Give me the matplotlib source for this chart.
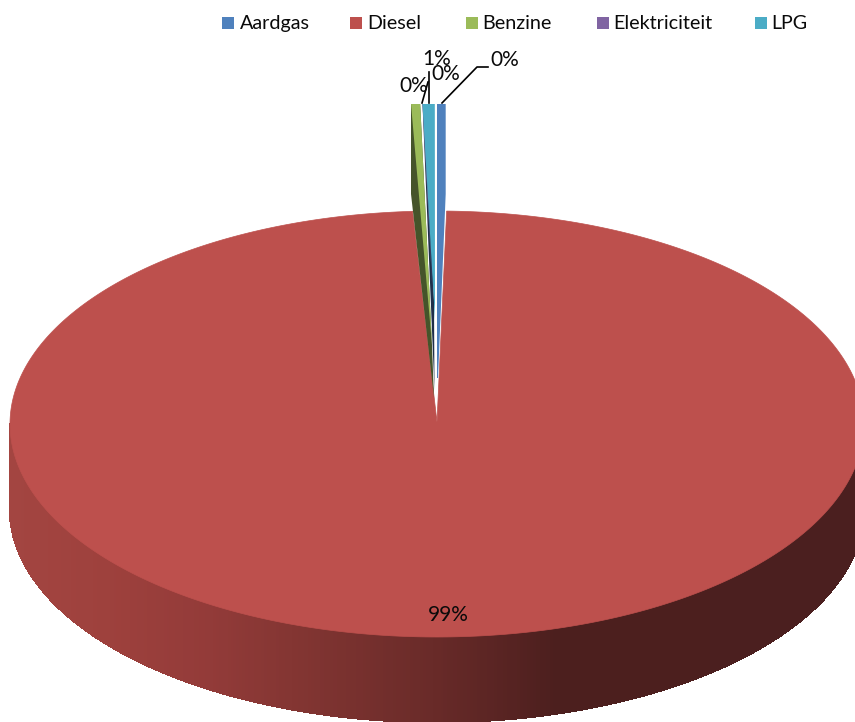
import numpy as np
from matplotlib import pyplot as plt
from matplotlib.collections import PolyCollection
from matplotlib.colors import LinearSegmentedColormap
from matplotlib.patches import Polygon, Rectangle

labels = ["Aardgas", "Diesel", "Benzine", "Elektriciteit", "LPG"]
shares = [0.36, 98.73, 0.38, 0.02, 0.51]
colors = ["#4F81BD", "#BD504D", "#9BBB59", "#8064A2", "#4BACC6"]

# geometry of the pie, in pixels of the 855x722 picture
cx, cy, rx, ry, depth = 437, 424, 427, 213, 85
top_y = 104
shrink = 0.9

plt.rcParams['font.family'] = ['Lato', 'DejaVu Sans']
fig = plt.figure(figsize=(8.55, 7.22), dpi=100)
ax = fig.add_axes([0, 0, 1, 1])
ax.set_xlim(0, 855)
ax.set_ylim(722, 0)
ax.axis('off')

fractions = np.array(shares) / sum(shares)
blue_angle = 2 * np.pi * fractions[0]
diesel_end = blue_angle + 2 * np.pi * fractions[1]


def rim(t):
    return cx + rx * np.sin(t), cy - ry * np.cos(t)


# front wall of the diesel slice, shaded from left to right
wall_cmap = LinearSegmentedColormap.from_list(
    "wall", [(0, "#A34541"), (0.11, "#9E413D"), (0.23, "#933B39"), (0.34, "#823532"),
             (0.49, "#6A2B29"), (0.64, "#4C1F1E"), (1, "#4B1F1F")])
phi = np.linspace(np.pi / 2, 3 * np.pi / 2, 400)
wx, wy = rim(phi)
quads = []
wall_colors = []
for i in range(len(phi) - 1):
    quads.append([(wx[i], wy[i]), (wx[i + 1], wy[i + 1]),
                  (wx[i + 1], wy[i + 1] + depth), (wx[i], wy[i] + depth)])
    wall_colors.append(wall_cmap((wx[i] - 10) / 854))
ax.add_collection(PolyCollection(quads, facecolors=wall_colors, edgecolors=wall_colors,
                                 linewidths=1.0, antialiaseds=False))

# top of the diesel slice
t = np.linspace(blue_angle, diesel_end, 500)
tx, ty = rim(t)
ax.add_patch(Polygon(np.vstack([np.column_stack([tx, ty]), [cx, cy - 2]]),
                     closed=True, facecolor=colors[1], edgecolor=colors[1], linewidth=0.5))


def strip_width(share):
    return rx * np.sin(2 * np.pi * share / 100) * shrink


# the pulled out thin slices
green_w = strip_width(shares[2])
lpg_w = strip_width(shares[4])
blue_w = strip_width(shares[0])
green_x, lpg_x, blue_x = 411, 422.5, 437

ax.add_patch(Polygon([(green_x, top_y), (green_x, 194), (434, 398), (432, 345), (green_x + green_w, top_y)],
                     closed=True, facecolor="#45542A", edgecolor="none"))
ax.add_patch(Polygon([(lpg_x, top_y), (434.5, 390), (434, 300), (lpg_x + 3, top_y)],
                     closed=True, facecolor="#1F2F4A", edgecolor="none"))
ax.add_patch(Polygon([(green_x, top_y), (green_x + green_w, top_y), (432, 345)],
                     closed=True, facecolor=colors[2], edgecolor="none"))
ax.add_patch(Polygon([(lpg_x, top_y), (lpg_x + 1, top_y), (433, 300)],
                     closed=True, facecolor=colors[3], edgecolor="none"))
ax.add_patch(Polygon([(lpg_x, top_y), (lpg_x + lpg_w, top_y), (435, 320)],
                     closed=True, facecolor=colors[4], edgecolor="none"))
ax.add_patch(Polygon([(blue_x, top_y), (blue_x + blue_w, top_y), (blue_x + blue_w, 194), (438, 378), (blue_x, 378)],
                     closed=True, facecolor=colors[0], edgecolor="none"))

# data labels and their leader lines
pct = [f"{s:.0f}%" for s in shares]
ax.plot([442, 477, 488], [103, 67, 67], color="black", lw=1.2)
ax.plot([429, 429], [103, 72], color="black", lw=1.2)
ax.plot([422, 428], [103, 82], color="black", lw=1.2)
ax.text(505, 60, pct[0], fontsize=15, ha="center", va="center", color="#0A0A0A")
ax.text(446, 74, pct[3], fontsize=15, ha="center", va="center", color="#0A0A0A")
ax.text(437, 59, pct[4], fontsize=15, ha="center", va="center", color="#0A0A0A")
ax.text(414, 86, pct[2], fontsize=15, ha="center", va="center", color="#0A0A0A")
ax.text(448, 615, pct[1], fontsize=15, ha="center", va="center", color="#0A0A0A")

# legend along the top
legend_x = [222, 350, 466, 597, 755]
legend_text_x = [240, 367, 482, 613, 771]
for name, color, x, text_x in zip(labels, colors, legend_x, legend_text_x):
    ax.add_patch(Rectangle((x, 17), 11.5, 11.5, facecolor=color, edgecolor="none"))
    ax.text(text_x, 23.5, name, fontsize=14.2, ha="left", va="center", color="#0A0A0A")

fig.savefig("out.png", dpi=100)
